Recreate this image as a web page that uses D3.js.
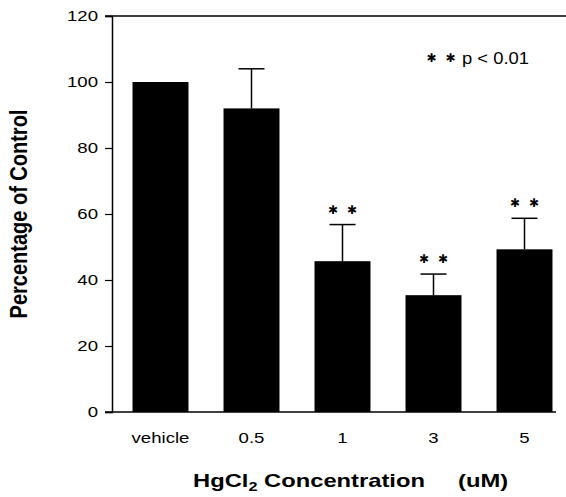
<!DOCTYPE html>
<html>
<head>
<meta charset="utf-8">
<script src="https://cdn.jsdelivr.net/npm/d3@7"></script>
<style>
  body { margin: 0; background: #fff; }
  text { font-family: Arial, "Liberation Sans", sans-serif; fill: #000; }
</style>
</head>
<body>
<div id="chart"></div>
<script>
const categories = ["vehicle", "0.5", "1", "3", "5"];
const means = [100, 92, 45.7, 35.4, 49.3];
const errors = [0, 104, 56.8, 41.8, 58.7];
const significant = [false, false, true, true, true];
const yTicks = [0, 20, 40, 60, 80, 100, 120];

const width = 566, height = 497;
const stretch = 1.24; // the scanned figure is wider than tall

const svg = d3.select("#chart").append("svg")
    .attr("width", width)
    .attr("height", height);

const x = d3.scaleBand()
    .domain(categories)
    .range([115, 570])
    .paddingInner(0.385)
    .paddingOuter(0.1925);

const y = d3.scaleLinear()
    .domain([0, 120])
    .range([412, 16]);

// frame lines
svg.append("line")
    .attr("x1", 105).attr("x2", 566)
    .attr("y1", y(120)).attr("y2", y(120))
    .attr("stroke", "#000").attr("stroke-width", 1.5);

svg.append("line")
    .attr("x1", 105).attr("x2", 556)
    .attr("y1", y(0)).attr("y2", y(0))
    .attr("stroke", "#000").attr("stroke-width", 1.5);

// y axis
const yAxis = svg.append("g")
    .attr("transform", "translate(112,0)")
    .call(d3.axisLeft(y).tickValues(yTicks).tickSize(7).tickPadding(7));
yAxis.select(".domain").attr("stroke-width", 1.5);
yAxis.selectAll(".tick line").attr("stroke-width", 1.2);
yAxis.selectAll("text")
    .attr("x", 0)
    .attr("transform", `translate(-14,0) scale(${stretch},1)`)
    .style("font-size", "15px")
    .attr("fill", "#000");

// bars
svg.selectAll("rect.bar")
    .data(categories)
    .enter().append("rect")
    .attr("class", "bar")
    .attr("x", d => x(d))
    .attr("width", x.bandwidth())
    .attr("y", (d, i) => y(means[i]))
    .attr("height", (d, i) => y(0) - y(means[i]))
    .attr("fill", "#000");

// error bars
const errData = categories.map((c, i) => ({c, m: means[i], e: errors[i], s: significant[i]}))
    .filter(d => d.e > d.m);
const cx = c => x(c) + x.bandwidth() / 2;

svg.selectAll("line.err")
    .data(errData)
    .enter().append("line")
    .attr("x1", d => cx(d.c))
    .attr("x2", d => cx(d.c))
    .attr("y1", d => y(d.m))
    .attr("y2", d => y(d.e))
    .attr("stroke", "#000").attr("stroke-width", 1.5);

svg.selectAll("line.cap")
    .data(errData)
    .enter().append("line")
    .attr("x1", d => cx(d.c) - 13)
    .attr("x2", d => cx(d.c) + 13)
    .attr("y1", d => y(d.e))
    .attr("y2", d => y(d.e))
    .attr("stroke", "#000").attr("stroke-width", 1.5);

// significance marks
function stars(g, xc, yc) {
    [-9.5, 9.5].forEach(dx => {
        g.append("text")
            .attr("x", xc + dx)
            .attr("y", yc)
            .attr("text-anchor", "middle")
            .attr("dominant-baseline", "central")
            .style("font-family", "'DejaVu Sans', sans-serif")
            .style("font-size", "12px")
            .text("\u2731");
    });
}
errData.filter(d => d.s).forEach(d => stars(svg, cx(d.c), y(d.e) - 15));

// category labels
svg.selectAll("text.cat")
    .data(categories)
    .enter().append("text")
    .attr("class", "cat")
    .attr("transform", d => `translate(${cx(d)},443) scale(${stretch},1)`)
    .attr("text-anchor", "middle")
    .style("font-size", "15px")
    .text(d => d);

// legend note
stars(svg, 441, 58);
svg.append("text")
    .attr("transform", "translate(462,64) scale(1.15,1)")
    .style("font-size", "16px")
    .text("p < 0.01");

// axis titles
svg.append("text")
    .attr("transform", `translate(27,214) scale(${stretch},1) rotate(-90)`)
    .attr("text-anchor", "middle")
    .style("font-size", "20px")
    .style("font-weight", "bold")
    .text("Percentage of Control");

const xt = svg.append("text")
    .attr("transform", "translate(193,487) scale(1.25,1)")
    .style("font-size", "19px")
    .style("font-weight", "bold");
xt.append("tspan").text("HgCl");
xt.append("tspan").attr("dy", 4).style("font-size", "13px").text("2");
xt.append("tspan").attr("dy", -4).text(" Concentration");

svg.append("text")
    .attr("transform", "translate(458,487) scale(1.25,1)")
    .style("font-size", "19px")
    .style("font-weight", "bold")
    .text("(uM)");
</script>
</body>
</html>
